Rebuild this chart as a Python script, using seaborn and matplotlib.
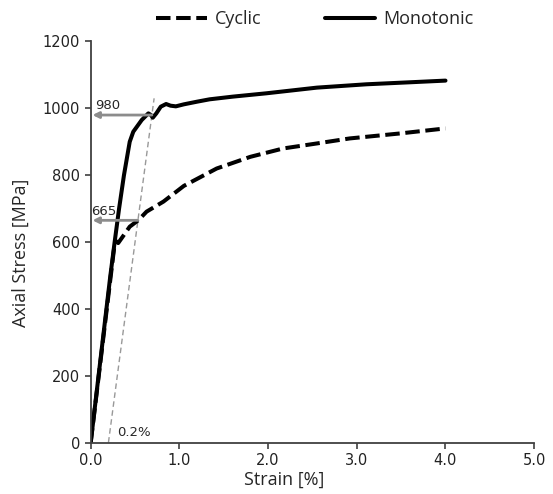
import numpy as np
import pandas as pd
import matplotlib
matplotlib.use("Agg")
import matplotlib.pyplot as plt
import seaborn as sns

# stress-strain curves
mono_strain = [0, 0.22, 0.27, 0.32, 0.375, 0.44, 0.48, 0.575, 0.65, 0.68, 0.70, 0.74,
               0.79, 0.85, 0.90, 0.96, 1.05, 1.20, 1.34, 1.60, 1.98, 2.55, 3.11, 3.60, 4.0]
mono_stress = [0, 496, 600, 700, 800, 900, 930, 965, 985, 980, 972, 985,
               1005, 1013, 1008, 1006, 1012, 1020, 1027, 1035, 1045, 1062, 1072, 1078, 1083]

cyc_strain = [0, 0.27, 0.29, 0.31, 0.35, 0.44, 0.54, 0.63, 0.82, 1.05, 1.42, 1.80,
              2.17, 2.55, 2.92, 3.49, 4.0]
cyc_stress = [0, 595, 602, 597, 612, 646, 666, 691, 721, 768, 820, 855,
              880, 895, 910, 925, 940]

# 0.2 % offset construction
offset = 0.2
modulus = 2000  # MPa per % strain
yield_stress = [980, 665]
offset_top = 1030

xticks = [0, 1, 2, 3, 4, 5]
yticks = [0, 200, 400, 600, 800, 1000, 1200]

sns.set_style("ticks")
plt.rcParams["font.family"] = ["DejaVu Sans"]

fig = plt.figure(figsize=(5.53, 4.94), dpi=100)
ax = fig.add_axes([0.164, 0.104, 0.802, 0.812])

mono = pd.DataFrame({"strain": mono_strain, "stress": mono_stress})
cyc = pd.DataFrame({"strain": cyc_strain, "stress": cyc_stress})

sns.lineplot(data=cyc, x="strain", y="stress", ax=ax, color="black", lw=2.9,
             estimator=None, sort=False, label="Cyclic")
ax.lines[-1].set_dashes((3.6, 1.4))
sns.lineplot(data=mono, x="strain", y="stress", ax=ax, color="black", lw=2.9,
             estimator=None, sort=False, label="Monotonic")
for ln in ax.lines:
    ln.set_solid_joinstyle("round")
    ln.set_dash_joinstyle("round")

off_x = np.array([offset, offset + offset_top / modulus])
ax.plot(off_x, modulus * (off_x - offset), color="#999999", lw=1.0, ls=(0, (4, 2.5)), zorder=1)

for ys, dx in zip(yield_stress, [0.05, 0.01]):
    ax.annotate("", xy=(0.02, ys), xytext=(offset + ys / modulus, ys),
                arrowprops=dict(arrowstyle="-|>", color="#8c8c8c", lw=2.0,
                                mutation_scale=9, shrinkA=0, shrinkB=0))
    ax.text(dx, ys + 8, str(ys), fontsize=9.5, ha="left", va="bottom")

ax.text(0.3, 12, "0.2%", fontsize=9.5, ha="left", va="bottom")

ax.set_xlim(0, 5)
ax.set_ylim(0, 1200)
ax.set_xticks(xticks)
ax.set_xticklabels([f"{t:.1f}" for t in xticks])
ax.set_yticks(yticks)
ax.tick_params(labelsize=10.5, length=4, width=1.2, color="#404040", labelcolor="#222222")
for s in ["left", "bottom"]:
    ax.spines[s].set_color("#404040")
    ax.spines[s].set_linewidth(1.3)
sns.despine(ax=ax)

ax.set_xlabel("Strain [%]", family="Open Sans", fontsize=13)
ax.set_ylabel("Axial Stress [MPa]", family="Open Sans", fontsize=13)
ax.xaxis.set_label_coords(0.436, -0.07)
ax.yaxis.set_label_coords(-0.138, 0.473)

ax.legend(loc="lower center", bbox_to_anchor=(0.506, 1.0), ncol=2, frameon=False,
          prop={"family": "Open Sans", "size": 13}, handlelength=2.8,
          handletextpad=0.45, columnspacing=3.5, borderaxespad=0.35)

fig.savefig("out.png", dpi=100)
